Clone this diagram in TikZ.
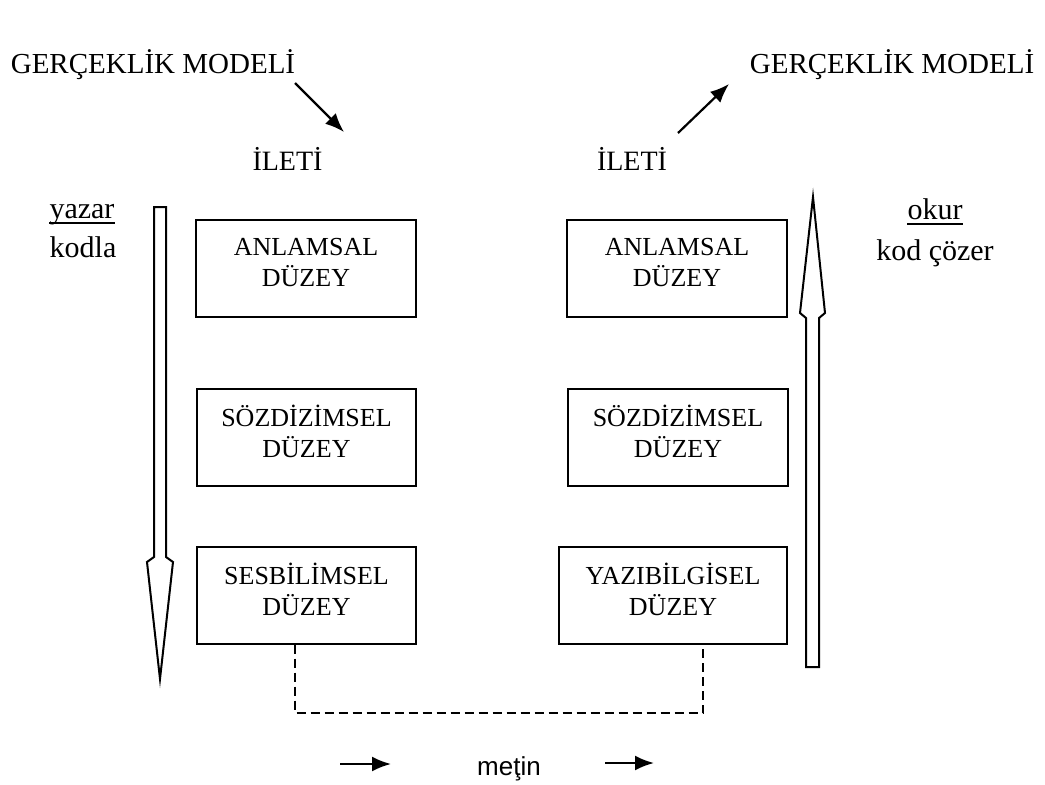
\documentclass[tikz,border=0pt]{standalone}
\usepackage{fontspec}
\setmainfont{Liberation Serif}
\newfontfamily\sansf{Liberation Sans}
\usetikzlibrary{arrows.meta}
\begin{document}
\begin{tikzpicture}[x=1pt,y=-1pt,
  lvl/.style={draw,line width=2pt,inner sep=0pt,minimum height=97pt,
    align=center,font=\fontsize{26}{31}\selectfont,text depth=12pt},
  lbl/.style={inner sep=0pt,anchor=base},
  ptr/.style={line width=2.2pt,-{Latex[length=19pt,width=15pt]}},
  big/.style={draw,line width=2pt,fill=white,line join=miter},
  dsh/.style={line width=1.8pt,dash pattern=on 9pt off 5pt}]
\useasboundingbox (0,0) rectangle (1045,785);
\fill[white] (0,0) rectangle (1045,785);
% top labels
\node[lbl,font=\fontsize{29}{34}\selectfont] (gmL) at (153,73) {GERÇEKLİK MODELİ};
\node[lbl,font=\fontsize{29}{34}\selectfont] (gmR) at (892,73) {GERÇEKLİK MODELİ};
\node[lbl,font=\fontsize{28}{33}\selectfont] (iL) at (287.5,170) {İLETİ};
\node[lbl,font=\fontsize{28}{33}\selectfont] (iR) at (632,170) {İLETİ};
\coordinate (aLs) at (295,83);
\coordinate (aLe) at (344,132);
\coordinate (aRs) at (678,133);
\coordinate (aRe) at (729,84);
\draw[ptr] (aLs) -- (aLe);
\draw[ptr] (aRs) -- (aRe);
% side labels
\node[lbl,font=\fontsize{30}{36}\selectfont] (yazar) at (82,218) {yazar};
\node[lbl,font=\fontsize{30}{36}\selectfont] (kodla) at (83,257) {kodla};
\node[lbl,font=\fontsize{30}{36}\selectfont] (okur) at (935,219) {okur};
\node[lbl,font=\fontsize{30}{36}\selectfont] (kodcoz) at (935,260) {kod çözer};
\draw[line width=1.4pt] ([yshift=-5pt]yazar.base west) -- ([yshift=-5pt]yazar.base east);
\draw[line width=1.4pt] ([yshift=-5pt]okur.base west) -- ([yshift=-5pt]okur.base east);
% boxes
\node[lvl,minimum width=220pt] (L1) at (306,268.5) {ANLAMSAL\\DÜZEY};
\node[lvl,minimum width=219pt] (L2) at (306.5,437) {SÖZDİZİMSEL\\DÜZEY};
\node[lvl,minimum width=219pt] (L3) at (306.5,595) {SESBİLİMSEL\\DÜZEY};
\node[lvl,minimum width=220pt] (R1) at (677,268) {ANLAMSAL\\DÜZEY};
\node[lvl,minimum width=220pt] (R2) at (678,437.5) {SÖZDİZİMSEL\\DÜZEY};
\node[lvl,minimum width=228pt] (R3) at (673,595.5) {YAZIBİLGİSEL\\DÜZEY};
% hollow arrows
\draw[big] (154,207) -- (166,207) -- (166,557) -- (173,562) -- (160,679) -- (147,562) -- (154,557) -- cycle;
\draw[big] (806,667) -- (819,667) -- (819,318) -- (825,313) -- (813,197) -- (800,313) -- (806,318) -- cycle;
% dashed link
\coordinate (dL) at (295,713);
\coordinate (dR) at (703,713);
\draw[dsh] (L3.south -| dL) -- (dL) -- (dR) -- (R3.south -| dR);
% bottom
\node[lbl,font=\sansf\fontsize{26}{31}\selectfont] (metin) at (509,775) {meţin};
\coordinate (b1s) at (340,764);
\coordinate (b1e) at (391,764);
\coordinate (b2s) at (605,763);
\coordinate (b2e) at (654,763);
\draw[ptr] (b1s) -- (b1e);
\draw[ptr] (b2s) -- (b2e);
\end{tikzpicture}
\end{document}
